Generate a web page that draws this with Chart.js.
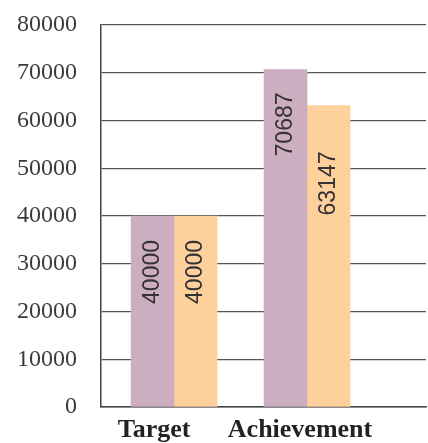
<!DOCTYPE html>
<html>
<head>
<meta charset="utf-8">
<script src="https://cdn.jsdelivr.net/npm/chart.js@4/dist/chart.umd.min.js"></script>
<style>
  html, body { margin: 0; padding: 0; background: #fff; }
  #wrap { width: 428px; height: 443px; }
</style>
</head>
<body>
<div id="wrap"><canvas id="chart" width="428" height="443"></canvas></div>
<script>
// Data
const categories = ['Target', 'Achievement'];
const seriesA = [40000, 70687];
const seriesB = [40000, 63147];
const yTicks = [0, 10000, 20000, 30000, 40000, 50000, 60000, 70000, 80000];

// Label offsets below bar top (px), per dataset / per bar
const labelOffsets = [[24, 23], [24, 46]];
// category labels sit a bit left of their bars in the original
const xLabelShift = [-20, -7];

Chart.defaults.font.family = '"Liberation Serif", "Times New Roman", serif';

// Value labels written vertically inside the bars
const barLabels = {
    id: 'barLabels',
    afterDatasetsDraw(chart) {
        const ctx = chart.ctx;
        ctx.save();
        ctx.font = '23px "Liberation Sans", Arial, sans-serif';
        ctx.fillStyle = '#333';
        ctx.textAlign = 'right';
        ctx.textBaseline = 'middle';
        chart.data.datasets.forEach((ds, di) => {
            chart.getDatasetMeta(di).data.forEach((bar, i) => {
                ctx.save();
                ctx.translate(bar.x, bar.y + labelOffsets[di][i]);
                ctx.rotate(-Math.PI / 2);
                ctx.fillText(String(ds.data[i]), 0, 0);
                ctx.restore();
            });
        });
        ctx.restore();
    }
};

const ctx = document.getElementById('chart').getContext('2d');
new Chart(ctx, {
    type: 'bar',
    data: {
        labels: categories,
        datasets: [
            { data: seriesA, backgroundColor: '#cdaec0', barThickness: 43 },
            { data: seriesB, backgroundColor: '#fed09c', barThickness: 43 }
        ]
    },
    options: {
        responsive: false,
        animation: false,
        layout: { padding: { top: 25, right: 2, left: 0, bottom: 0 } },
        plugins: { legend: { display: false }, tooltip: { enabled: false } },
        scales: {
            x: {
                grid: { display: false, drawTicks: false },
                border: { display: true, color: '#444', width: 1.5 },
                ticks: {
                    color: '#222',
                    padding: 8,
                    font: { family: '"Liberation Serif", serif', size: 26, weight: 'bold' }
                },
                afterFit: s => { s.height = 36; },
                afterBuildTicks: s => {
                    // category slots are not evenly spread over the plot in the original
                    s.configure = function () {
                        Chart.CategoryScale.prototype.configure.call(this);
                        this._startValue = -0.55;
                        this._valueRange = 2.445;
                    };
                    const orig = Chart.CategoryScale.prototype._computeLabelItems;
                    s._computeLabelItems = function (area) {
                        const items = orig.call(this, area);
                        items.forEach((it, i) => { it.options.translation[0] += xLabelShift[i] || 0; });
                        return items;
                    };
                }
            },
            y: {
                min: 0,
                max: 80000,
                afterBuildTicks: s => { s.ticks = yTicks.map(v => ({ value: v })); },
                grid: { color: '#555', lineWidth: 1.3, drawTicks: false },
                border: { display: true, color: '#444', width: 1.5 },
                ticks: {
                    color: '#3a3a3a',
                    padding: 24,
                    callback: v => String(v),
                    font: { family: '"Liberation Serif", serif', size: 24 }
                },
                afterFit: s => { s.width = 101; s.paddingTop = 0; s.paddingBottom = 0; }
            }
        }
    },
    plugins: [barLabels]
});
</script>
</body>
</html>
